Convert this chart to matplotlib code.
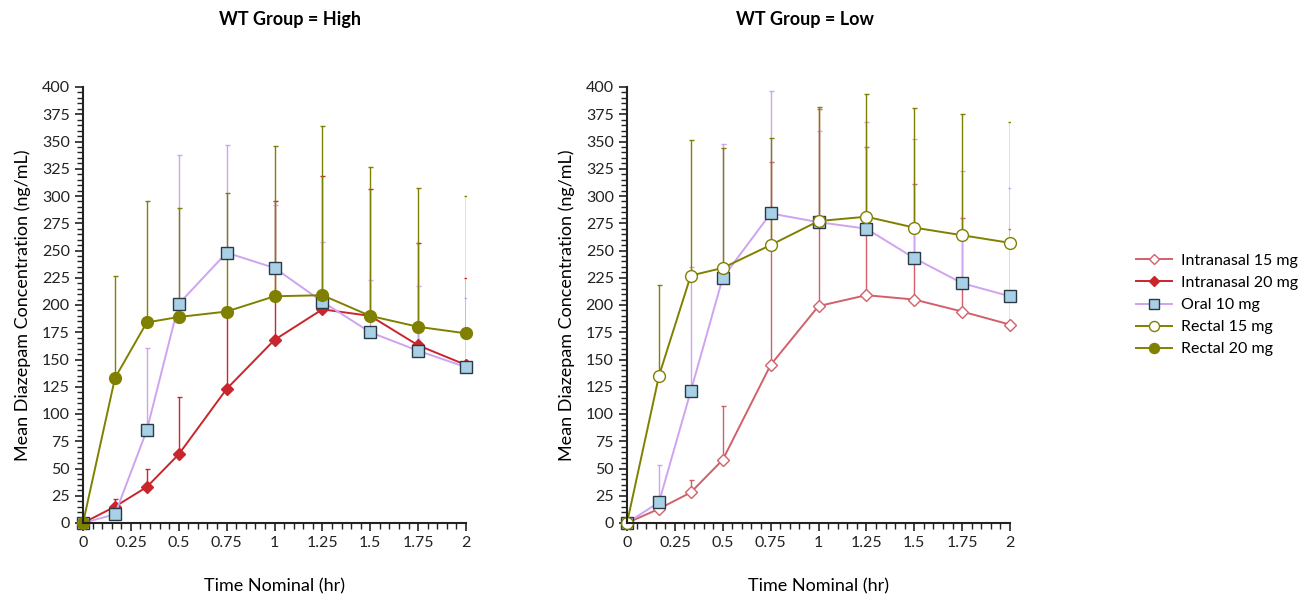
import matplotlib
matplotlib.use("Agg")
import matplotlib.pyplot as plt
from matplotlib.ticker import MultipleLocator
import numpy as np

plt.rcParams['font.family'] = ['Lato', 'DejaVu Sans']

time = [0, 0.167, 0.333, 0.5, 0.75, 1.0, 1.25, 1.5, 1.75, 2.0]

# WT Group = High
high_in20 = [0, 15, 33, 63, 123, 168, 196, 190, 163, 145]
high_in20_up = [0, 22, 50, 116, 195, 295, 318, 306, 257, 225]
high_oral10 = [0, 8, 85, 201, 248, 234, 203, 175, 158, 143]
high_oral10_up = [0, 12, 161, 338, 347, 292, 258, 223, 217, 206]
high_rec20 = [0, 133, 184, 189, 194, 208, 209, 190, 180, 174]
high_rec20_up = [0, 227, 295, 289, 303, 346, 364, 327, 307, 300]

# WT Group = Low
low_in15 = [0, 13, 28, 58, 145, 199, 209, 205, 194, 182]
low_in15_up = [0, 18, 39, 107, 331, 380, 345, 311, 280, 270]
low_oral10 = [0, 19, 121, 225, 284, 276, 270, 243, 220, 208]
low_oral10_up = [0, 53, 235, 348, 396, 360, 368, 352, 323, 307]
low_rec15 = [0, 135, 227, 234, 255, 277, 281, 271, 264, 257]
low_rec15_up = [0, 218, 351, 344, 353, 382, 394, 381, 375, 368]

titles = ["WT Group = High", "WT Group = Low"]
labels = ["Intranasal 15 mg", "Intranasal 20 mg", "Oral 10 mg", "Rectal 15 mg", "Rectal 20 mg"]

RED = "#c8262c"
RED_L = "#d2606a"
PURP = "#cfa3f0"
BLUE = "#a8d0e6"
OLIVE = "#808000"

styles = {
    "Intranasal 15 mg": dict(color=RED_L, marker="D", ms=6, mfc="white", mec=RED_L, mew=1.0),
    "Intranasal 20 mg": dict(color=RED, marker="D", ms=6, mfc=RED, mec=RED, mew=1.0),
    "Oral 10 mg": dict(color=PURP, marker="s", ms=8.5, mfc=BLUE, mec="#2a3a44", mew=1.0),
    "Rectal 15 mg": dict(color=OLIVE, marker="o", ms=8.5, mfc="white", mec=OLIVE, mew=1.0),
    "Rectal 20 mg": dict(color=OLIVE, marker="o", ms=8.5, mfc=OLIVE, mec=OLIVE, mew=1.0),
}

fig = plt.figure(figsize=(13.02, 5.99), dpi=100)
ax1 = fig.add_axes([83/1302, 1-523/599, 383/1302, 436/599])
ax2 = fig.add_axes([627/1302, 1-523/599, 383/1302, 436/599])

panels = [
    (ax1, [("Intranasal 20 mg", high_in20, high_in20_up),
           ("Oral 10 mg", high_oral10, high_oral10_up),
           ("Rectal 20 mg", high_rec20, high_rec20_up)]),
    (ax2, [("Intranasal 15 mg", low_in15, low_in15_up),
           ("Oral 10 mg", low_oral10, low_oral10_up),
           ("Rectal 15 mg", low_rec15, low_rec15_up)]),
]

handles = {}
for ax, series in panels:
    for name, vals, up in series:
        st = styles[name]
        v = np.array(vals, float)
        u = np.array(up, float)
        err = np.clip(u - v, 0, None)
        ax.errorbar(time, v, yerr=[np.zeros_like(err), err], fmt="none",
                    ecolor=st["color"], elinewidth=1.0, capsize=1.8, capthick=1.0, zorder=2)
    for name, vals, up in series:
        st = styles[name]
        h, = ax.plot(time, vals, color=st["color"], lw=1.4, marker=st["marker"],
                     ms=st["ms"], mfc=st["mfc"], mec=st["mec"], mew=st["mew"], zorder=3,
                     label=name)
        h.set_clip_on(False)
        handles[name] = h

    ax.set_xlim(0, 2)
    ax.set_ylim(0, 400)
    ax.xaxis.set_minor_locator(MultipleLocator(0.05))
    ax.yaxis.set_major_locator(MultipleLocator(25))
    ax.yaxis.set_minor_locator(MultipleLocator(5))
    ax.set_xticks([0, 0.25, 0.5, 0.75, 1, 1.25, 1.5, 1.75, 2])
    ax.set_xticklabels(["0", "0.25", "0.5", "0.75", "1", "1.25", "1.5", "1.75", "2"])
    for s in ["top", "right"]:
        ax.spines[s].set_visible(False)
    for s in ["left", "bottom"]:
        ax.spines[s].set_linewidth(1.5)
        ax.spines[s].set_color("#222222")
        ax.spines[s].set_zorder(5)
    ax.tick_params(which="major", direction="out", length=6, width=1.2, labelsize=11.5, colors="#222222")
    ax.tick_params(which="minor", direction="out", length=4, width=1.0, colors="#222222")
    ax.set_xlabel("Time Nominal (hr)", fontsize=13, labelpad=20)
    ax.set_ylabel("Mean Diazepam Concentration (ng/mL)", fontsize=13, labelpad=8)

fig.text(290/1302, 1-20/599, titles[0], ha="center", va="center", fontsize=13, fontweight="bold")
fig.text(805/1302, 1-20/599, titles[1], ha="center", va="center", fontsize=13, fontweight="bold")

fig.legend([handles[n] for n in labels], labels, loc="center left",
           bbox_to_anchor=(1122/1302, 1-305/599), frameon=False, fontsize=11.5,
           handlelength=2.2, labelspacing=0.5, handletextpad=0.6, markerscale=0.85)

fig.savefig("out.png", dpi=100)
